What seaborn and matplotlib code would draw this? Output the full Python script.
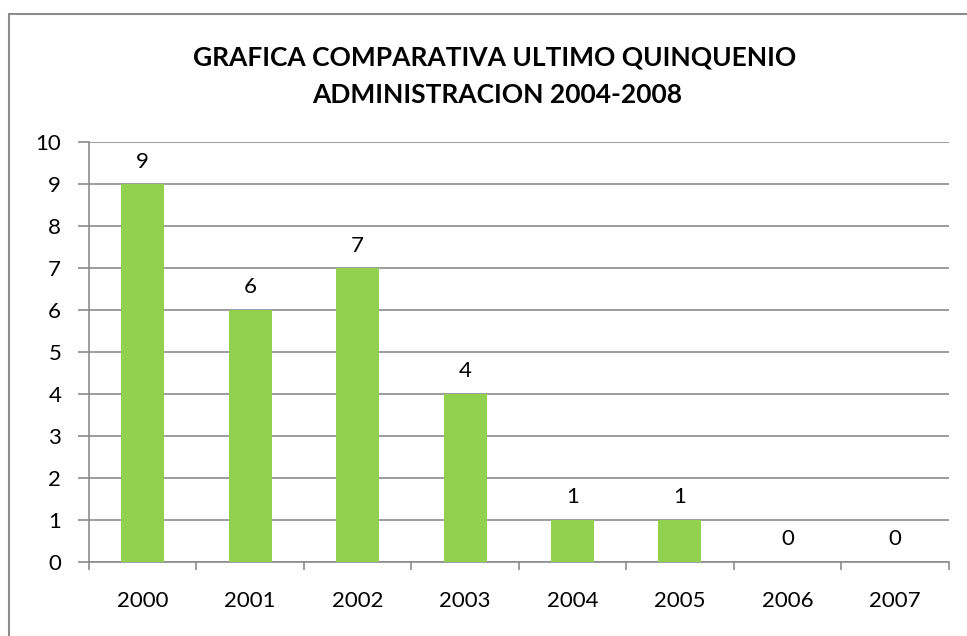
import numpy as np
import pandas as pd
import matplotlib
matplotlib.use("Agg")
import matplotlib.pyplot as plt
import seaborn as sns
from matplotlib.lines import Line2D

# data
years = ["2000", "2001", "2002", "2003", "2004", "2005", "2006", "2007"]
counts = [9, 6, 7, 4, 1, 1, 0, 0]

df = pd.DataFrame({"year": years, "count": counts})

sns.set_style("white")
plt.rcParams["font.family"] = ["Lato", "DejaVu Sans"]
plt.rcParams["text.color"] = "black"
plt.rcParams["xtick.labelcolor"] = "black"
plt.rcParams["ytick.labelcolor"] = "black"

fig = plt.figure(figsize=(9.67, 6.36), dpi=100)
ax = fig.add_axes([0.092, 0.1164, 0.889, 0.6603])

sns.barplot(data=df, x="year", y="count", color="#92D050", width=0.4,
            saturation=1, linewidth=0, ax=ax, zorder=3)

ax.set_ylim(0, 10)
ax.set_xlim(-0.5, len(years) - 0.5)
ax.set_yticks(range(0, 11))
ax.yaxis.grid(True, color="#8c8c8c", linewidth=1.2, zorder=0)
ax.set_axisbelow(True)
ax.set_xlabel("")
ax.set_ylabel("")

for side in ["top", "right"]:
    ax.spines[side].set_visible(False)
for side in ["left", "bottom"]:
    ax.spines[side].set_color("#8c8c8c")
    ax.spines[side].set_linewidth(1.2)

# category ticks at boundaries, labels centred
ax.set_xticks(np.arange(-0.5, len(years), 1.0))
ax.set_xticklabels([])
ax.set_xticks(range(len(years)), minor=True)
ax.set_xticklabels(years, minor=True)
ax.tick_params(axis="x", which="major", length=6, width=1.2, color="#8c8c8c",
               direction="out", bottom=True)
ax.tick_params(axis="x", which="minor", length=0, pad=21, labelsize=16,
               labelcolor="black")
ax.tick_params(axis="y", length=8, width=1.2, color="#8c8c8c", direction="out",
               left=True, pad=12, labelsize=16, labelcolor="black")

for i, v in enumerate(counts):
    ax.annotate(str(v), (i, v), xytext=(0, 9), textcoords="offset points",
                ha="center", va="bottom", fontsize=16, color="black")

fig.text(0.512, 0.91, "GRAFICA COMPARATIVA ULTIMO QUINQUENIO",
         ha="center", va="center", fontsize=19, fontweight="bold", color="black")
fig.text(0.514, 0.851, "ADMINISTRACION 2004-2008",
         ha="center", va="center", fontsize=19, fontweight="bold", color="black")

# outer chart border (top and left visible)
fig.add_artist(Line2D([0.0098, 1.0], [0.978, 0.978], color="#8c8c8c",
                      linewidth=1.5, transform=fig.transFigure))
fig.add_artist(Line2D([0.0098, 0.0098], [0.0, 0.978], color="#8c8c8c",
                      linewidth=1.5, transform=fig.transFigure))

fig.savefig("out.png", dpi=100)
